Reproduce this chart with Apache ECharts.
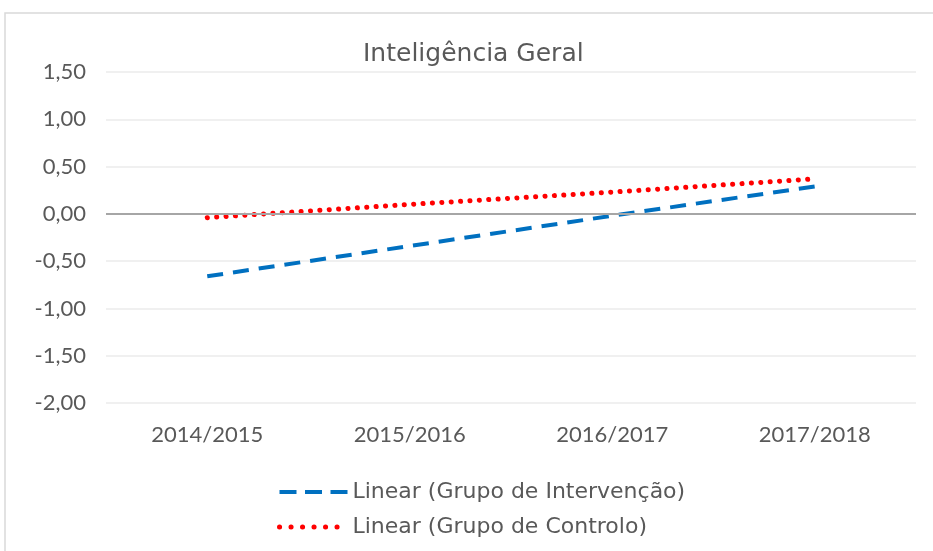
<!DOCTYPE html>
<html>
<head>
<meta charset="utf-8">
<script src="https://cdn.jsdelivr.net/npm/echarts@6/dist/echarts.min.js"></script>
<style>
  html, body { margin: 0; padding: 0; background: #fff; }
  #chart { width: 933px; height: 551px; }
</style>
</head>
<body>
<div id="chart"></div>
<script>
const categories = ['2014/2015', '2015/2016', '2016/2017', '2017/2018']
const intervencao = [-0.66, -0.34, -0.02, 0.29]
const controlo = [-0.04, 0.1, 0.23, 0.37]
const seriesNames = ['Linear (Grupo de Intervenção)', 'Linear (Grupo de Controlo)']

const textColor = '#595959'
const axisFont = 'Lato, sans-serif'
const wideFont = '"DejaVu Sans", sans-serif'

const chart = echarts.init(document.getElementById('chart'))
chart.setOption({
  animation: false,
  graphic: [
    {
      type: 'rect',
      shape: { x: 5, y: 13, width: 960, height: 600 },
      style: { fill: 'none', stroke: '#d9d9d9', lineWidth: 1.5 },
      silent: true
    }
  ],
  title: {
    text: 'Inteligência Geral',
    left: 358,
    top: 37,
    textStyle: { color: textColor, fontSize: 25, fontWeight: 'normal', fontFamily: wideFont }
  },
  grid: { left: 106, right: 17, top: 72, bottom: 148 },
  legend: {
    orient: 'vertical',
    left: 272,
    top: 476,
    itemWidth: 68,
    itemHeight: 10,
    itemGap: 13,
    data: [
      { name: seriesNames[0], lineStyle: { width: 4, type: [17, 8.5], cap: 'butt' } },
      { name: seriesNames[1], lineStyle: { width: 5, type: [0.1, 11.4], cap: 'round' } }
    ],
    itemStyle: { opacity: 0 },
    textStyle: { color: textColor, fontSize: 22, fontFamily: wideFont, padding: [0, 0, 0, 0] }
  },
  xAxis: {
    type: 'category',
    data: categories,
    boundaryGap: true,
    axisLine: { show: false },
    axisTick: { show: false },
    axisLabel: { color: textColor, fontSize: 22, margin: 21, fontFamily: axisFont }
  },
  yAxis: {
    type: 'value',
    min: -2,
    max: 1.5,
    interval: 0.5,
    axisLine: { show: false },
    axisTick: { show: false },
    splitLine: { lineStyle: { color: '#ebebeb', width: 1.5 } },
    axisLabel: {
      color: textColor,
      fontSize: 22,
      margin: 20,
      fontFamily: axisFont,
      formatter: (v) => v.toFixed(2).replace('.', ',')
    }
  },
  series: [
    {
      name: seriesNames[0],
      type: 'line',
      data: intervencao,
      symbol: 'none',
      color: '#0070C0',
      lineStyle: { color: '#0070C0', width: 4, type: [16, 10], cap: 'butt' },
      markLine: {
        silent: true,
        symbol: 'none',
        label: { show: false },
        lineStyle: { color: '#a6a6a6', width: 2, type: 'solid' },
        data: [{ yAxis: 0 }]
      },
      z: 3
    },
    {
      name: seriesNames[1],
      type: 'line',
      data: controlo,
      symbol: 'none',
      color: '#FF0000',
      lineStyle: { color: '#FF0000', width: 5, type: [0.1, 9.3], cap: 'round' },
      z: 4
    }
  ]
})
</script>
</body>
</html>
